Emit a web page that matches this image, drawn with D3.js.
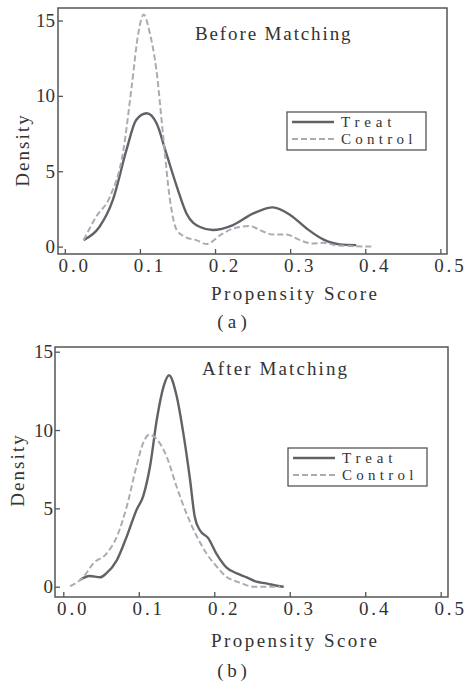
<!DOCTYPE html>
<html>
<head>
<meta charset="utf-8">
<script src="https://cdn.jsdelivr.net/npm/d3@7"></script>
<style>
  body { margin: 0; background: #fff; }
  text { font-family: "Liberation Serif", "DejaVu Serif", serif; fill: #333; }
</style>
</head>
<body>
<div id="container"></div>
<script>
let w = 469;
let h = 684;

// panel (a) before matching
let beforeTreatX = [0.025, 0.046, 0.064, 0.082, 0.095, 0.109, 0.122, 0.135, 0.149, 0.162, 0.180, 0.197, 0.224, 0.251, 0.277, 0.300, 0.322, 0.344, 0.366, 0.388];
let beforeTreatY = [0.43, 1.3, 3.1, 6.4, 8.4, 8.85, 8.2, 6.2, 4.0, 2.2, 1.3, 1.1, 1.43, 2.2, 2.6, 2.1, 1.2, 0.48, 0.15, 0.1];
let beforeControlX = [0.025, 0.042, 0.060, 0.078, 0.089, 0.098, 0.105, 0.113, 0.122, 0.131, 0.140, 0.149, 0.162, 0.175, 0.189, 0.207, 0.224, 0.246, 0.264, 0.277, 0.295, 0.313, 0.330, 0.344, 0.362, 0.384, 0.410];
let beforeControlY = [0.43, 2.0, 3.3, 6.4, 10.6, 14.2, 15.4, 14.2, 11.7, 7.3, 3.1, 1.1, 0.6, 0.43, 0.17, 0.76, 1.2, 1.36, 1.0, 0.8, 0.8, 0.43, 0.2, 0.25, 0.08, 0.03, 0.0];

// panel (b) after matching
let afterTreatX = [0.022, 0.035, 0.049, 0.057, 0.071, 0.084, 0.097, 0.106, 0.115, 0.124, 0.133, 0.140, 0.150, 0.159, 0.168, 0.174, 0.181, 0.192, 0.203, 0.216, 0.230, 0.243, 0.256, 0.269, 0.283, 0.292];
let afterTreatY = [0.43, 0.68, 0.6, 0.85, 1.7, 3.2, 4.9, 5.8, 7.7, 10.7, 12.8, 13.5, 12.2, 9.8, 6.8, 4.5, 3.6, 3.1, 2.1, 1.24, 0.85, 0.6, 0.32, 0.21, 0.06, 0.0];
let afterControlX = [0.009, 0.027, 0.040, 0.057, 0.071, 0.084, 0.097, 0.106, 0.114, 0.124, 0.137, 0.150, 0.163, 0.177, 0.190, 0.203, 0.216, 0.234, 0.252, 0.269, 0.287];
let afterControlY = [0.04, 0.64, 1.5, 2.1, 3.2, 5.1, 7.7, 9.2, 9.7, 9.4, 8.3, 6.4, 4.7, 3.2, 2.1, 1.3, 0.64, 0.26, 0.0, 0.0, 0.0];

let xTicks = [0, 0.1, 0.2, 0.3, 0.4, 0.5];
let yTicks = [0, 5, 10, 15];
let seriesNames = ["Treat", "Control"];

let treatColor = "#5f6367";
let controlColor = "#a9adb3";
let charW = 10.5; // the original font is a fixed-width one

let viz = d3.select("#container")
  .append("svg")
  .attr("width", w)
  .attr("height", h)
  ;

function zip(xs, ys) {
  return xs.map(function (x, i) {
    return { x: x, y: ys[i] };
  });
}

// stretch serif text to a fixed-width look
function mono(sel) {
  sel.each(function () {
    let t = d3.select(this);
    let n = t.text().length;
    if (n > 1) {
      t.attr("textLength", n * charW - 2).attr("lengthAdjust", "spacing");
    }
  });
}

function drawPanel(p) {
  let g = viz.append("g");

  let xScale = d3.scaleLinear().domain([0, 0.5]).range([p.x0, p.x5]);
  let yScale = d3.scaleLinear().domain([0, 15]).range([p.y0, p.y15]);

  // frame
  g.append("rect")
    .attr("x", p.left)
    .attr("y", p.top)
    .attr("width", p.right - p.left)
    .attr("height", p.bottom - p.top)
    .attr("fill", "none")
    .attr("stroke", "#555")
    .attr("stroke-width", 1.5);

  let xAxis = d3.axisBottom(xScale).tickValues(xTicks).tickFormat(d3.format(".1f")).tickSize(-5).tickPadding(5);
  let xAxisGroup = g.append("g").attr("transform", "translate(0," + p.bottom + ")").call(xAxis);
  xAxisGroup.select(".domain").remove();
  xAxisGroup.selectAll("line").attr("stroke", "#555").attr("stroke-width", 1.3);
  xAxisGroup.selectAll("text").attr("font-size", 19).attr("font-family", null).attr("dx", 8).call(mono);

  let yAxis = d3.axisLeft(yScale).tickValues(yTicks).tickSize(-5).tickPadding(p.yPad);
  let yAxisGroup = g.append("g").attr("transform", "translate(" + p.left + ",0)").call(yAxis);
  yAxisGroup.select(".domain").remove();
  yAxisGroup.selectAll("line").attr("stroke", "#555").attr("stroke-width", 1.3);
  yAxisGroup.selectAll("text").attr("font-size", 19).attr("font-family", null).call(mono);

  let line = d3.line()
    .x(function (d) { return xScale(d.x); })
    .y(function (d) { return yScale(d.y); })
    .curve(d3.curveMonotoneX);

  g.append("path")
    .datum(p.treat)
    .attr("d", line)
    .attr("fill", "none")
    .attr("stroke", treatColor)
    .attr("stroke-width", 2.4);

  g.append("path")
    .datum(p.control)
    .attr("d", line)
    .attr("fill", "none")
    .attr("stroke", controlColor)
    .attr("stroke-width", 2)
    .attr("stroke-dasharray", "6,3");

  // title inside plot
  g.append("text")
    .attr("x", p.titleX)
    .attr("y", p.titleY)
    .attr("font-size", 19)
    .text(p.title)
    .call(mono);

  // legend
  g.append("rect")
    .attr("x", p.legX)
    .attr("y", p.legY)
    .attr("width", 139)
    .attr("height", 38)
    .attr("fill", "#fff")
    .attr("stroke", "#555")
    .attr("stroke-width", 1.3);

  let legColors = [treatColor, controlColor];
  seriesNames.forEach(function (name, i) {
    let yy = p.legY + 10 + i * 17;
    g.append("line")
      .attr("x1", p.legX + 5)
      .attr("x2", p.legX + 47)
      .attr("y1", yy)
      .attr("y2", yy)
      .attr("stroke", legColors[i])
      .attr("stroke-width", i == 0 ? 2.4 : 2)
      .attr("stroke-dasharray", i == 0 ? null : "6,3");
    g.append("text")
      .attr("x", p.legX + 54)
      .attr("y", yy + 5)
      .attr("font-size", 15)
      .text(name)
      .call(mono);
  });

  // axis labels
  g.append("text")
    .attr("x", 294)
    .attr("y", p.xLabelY)
    .attr("text-anchor", "middle")
    .attr("font-size", 19)
    .text("Propensity Score")
    .call(mono);

  g.append("text")
    .attr("transform", "translate(" + p.yLabelX + "," + p.yLabelY + ") rotate(-90)")
    .attr("text-anchor", "middle")
    .attr("font-size", 19)
    .text("Density")
    .call(mono);

  g.append("text")
    .attr("x", 232)
    .attr("y", p.capY)
    .attr("text-anchor", "middle")
    .attr("font-size", 19)
    .text(p.caption)
    .call(mono);
}

drawPanel({
  left: 58, right: 447, top: 8, bottom: 254,
  x0: 64.8, x5: 440.4, y0: 246.6, y15: 20.5, yPad: 3,
  title: "Before Matching", titleX: 195, titleY: 40,
  legX: 287, legY: 112,
  xLabelY: 300, yLabelX: 29, yLabelY: 151,
  caption: "(a)", capY: 328,
  treat: zip(beforeTreatX, beforeTreatY),
  control: zip(beforeControlX, beforeControlY)
});

drawPanel({
  left: 55, right: 448, top: 347, bottom: 597,
  x0: 63.3, x5: 440.7, y0: 586.7, y15: 351.7, yPad: 2,
  title: "After Matching", titleX: 202, titleY: 375,
  legX: 288, legY: 448,
  xLabelY: 647, yLabelX: 24, yLabelY: 471,
  caption: "(b)", capY: 677,
  treat: zip(afterTreatX, afterTreatY),
  control: zip(afterControlX, afterControlY)
});
</script>
</body>
</html>
